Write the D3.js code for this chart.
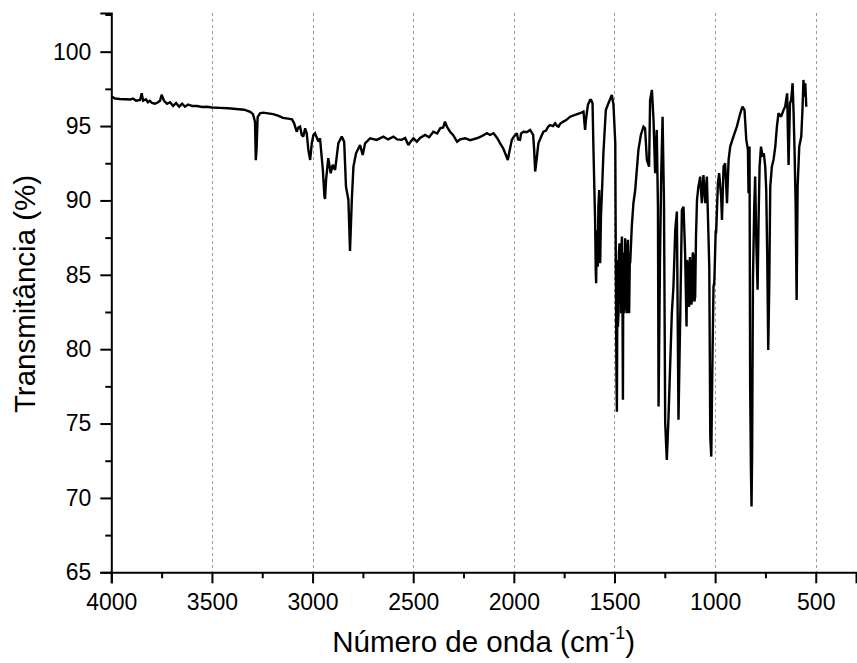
<!DOCTYPE html>
<html>
<head>
<meta charset="utf-8">
<script src="https://cdn.jsdelivr.net/npm/d3@7"></script>
<style>
  html, body { margin: 0; padding: 0; background: #fff; }
  svg { display: block; font-family: Arial, "Liberation Sans", sans-serif; }
</style>
</head>
<body>
<svg id="chart" width="857" height="663"></svg>
<script>
// FTIR spectrum: wavenumber (cm-1) and transmittance (%)
const wavenumber = [
  4000, 3982, 3957, 3932, 3907, 3892, 3877, 3857, 3849, 3842, 3828, 3818, 3808, 3798, 3783, 3768,
  3758, 3750, 3738, 3723, 3708, 3693, 3678, 3663, 3648, 3634, 3619, 3599, 3574, 3549, 3524, 3500,
  3460, 3420, 3380, 3340, 3310, 3296, 3286, 3282, 3278, 3273, 3261, 3246, 3221, 3196, 3172, 3147,
  3122, 3102, 3092, 3079, 3071, 3062, 3054, 3046, 3037, 3029, 3021, 3012, 3004, 2996, 2988, 2971,
  2963, 2949, 2941, 2938, 2933, 2922, 2910, 2900, 2888, 2872, 2855, 2843, 2834, 2822, 2816, 2814,
  2809, 2805, 2797, 2784, 2764, 2751, 2739, 2714, 2681, 2648, 2625, 2598, 2580, 2557, 2540, 2524,
  2510, 2499, 2482, 2466, 2441, 2421, 2400, 2381, 2366, 2351, 2342, 2332, 2317, 2302, 2282, 2267,
  2242, 2217, 2184, 2162, 2134, 2118, 2101, 2083, 2068, 2053, 2043, 2030, 2023, 2010, 1999, 1985,
  1979, 1969, 1964, 1952, 1934, 1919, 1904, 1899, 1894, 1889, 1878, 1864, 1853, 1840, 1830, 1820,
  1805, 1795, 1785, 1778, 1770, 1754, 1740, 1720, 1696, 1671, 1654, 1649, 1646, 1641, 1632, 1621,
  1616, 1609, 1604, 1596, 1593, 1591, 1588, 1583, 1580, 1576, 1573, 1571, 1567, 1563, 1555, 1543,
  1530, 1513, 1505, 1496, 1493, 1490, 1488, 1485, 1483, 1480, 1478, 1475, 1471, 1469, 1467, 1465,
  1463, 1460, 1458, 1456, 1452, 1450, 1447, 1444, 1441, 1438, 1436, 1433, 1430, 1427, 1424, 1422,
  1414, 1406, 1397, 1389, 1381, 1369, 1356, 1348, 1339, 1328, 1323, 1314, 1306, 1298, 1290, 1284,
  1281, 1274, 1268, 1261, 1254, 1248, 1240, 1232, 1223, 1215, 1207, 1198, 1190, 1182, 1173, 1165,
  1157, 1149, 1142, 1139, 1135, 1132, 1129, 1125, 1122, 1118, 1115, 1111, 1107, 1103, 1099, 1095,
  1090, 1083, 1074, 1066, 1058, 1049, 1041, 1036, 1029, 1024, 1019, 1013, 1008, 1004, 997, 995,
  986, 980, 970, 966, 958, 950, 941, 933, 925, 909, 892, 875, 864, 854, 845, 837,
  834, 829, 826, 822, 819, 816, 812, 806, 801, 796, 789, 784, 779, 772, 764, 758,
  751, 746, 741, 736, 731, 726, 718, 710, 701, 693, 685, 672, 660, 652, 647, 642,
  638, 635, 628, 622, 615, 610, 605, 600, 595, 590, 582, 572, 566, 561, 556, 552,
  547
];
const transmittance = [
  97.0, 96.85, 96.82, 96.8, 96.78, 96.85, 96.7, 96.75, 97.2, 96.7, 96.8, 96.6, 96.7, 96.55, 96.5, 96.6,
  96.7, 97.1, 96.7, 96.5, 96.6, 96.35, 96.55, 96.3, 96.5, 96.3, 96.45, 96.35, 96.35, 96.28, 96.3, 96.25,
  96.22, 96.2, 96.15, 96.1, 95.95, 95.8, 95.3, 92.7, 93.5, 95.6, 95.85, 95.9, 95.85, 95.8, 95.7, 95.55,
  95.5, 95.45, 95.2, 94.62, 94.9, 94.96, 94.4, 94.29, 94.85, 94.52, 93.4, 92.72, 93.84, 94.4, 94.52, 93.95,
  94.18, 92.05, 90.26, 90.1, 91.38, 92.84, 91.83, 92.39, 92.05, 93.84, 94.29, 93.95, 90.93, 90.03, 87.5, 86.6,
  88.5, 90.03, 92.27, 93.17, 93.73, 93.06, 93.84, 94.18, 94.07, 94.29, 94.1, 94.29, 94.1, 94.07, 94.2, 93.73,
  94.0, 94.18, 93.95, 94.2, 94.4, 94.25, 94.62, 94.5, 94.85, 94.9, 95.3, 94.95, 94.62, 94.4, 93.95, 94.1,
  94.18, 94.05, 94.18, 94.3, 94.52, 94.4, 94.52, 94.2, 93.84, 93.5, 93.17, 92.72, 93.2, 94.07, 94.3, 94.52,
  94.1, 94.07, 94.5, 94.62, 94.6, 94.74, 94.4, 93.4, 91.94, 92.5, 93.84, 94.3, 94.62, 94.7, 94.95, 95.07,
  95.0, 95.19, 95.0, 94.96, 95.15, 95.3, 95.4, 95.63, 95.75, 95.86, 95.97, 95.2, 94.74, 95.5, 96.42, 96.75,
  96.75, 96.53, 93.17, 88.47, 85.2, 84.43, 88.0, 85.55, 89.5, 90.7, 86.5, 85.78, 89.0, 90.26, 93.17, 96.08,
  96.53, 97.09, 96.42, 93.84, 84.66, 77.94, 75.8, 86.0, 81.5, 82.42, 86.5, 87.12, 83.0, 87.0, 82.42, 86.8,
  87.57, 82.5, 76.6, 86.5, 82.42, 83.0, 87.46, 82.6, 87.0, 82.42, 86.8, 87.35, 83.0, 82.42, 86.0, 85.78,
  88.24, 89.81, 90.7, 92.05, 93.4, 94.4, 94.96, 94.85, 92.72, 92.27, 96.75, 97.43, 95.41, 91.83, 94.74, 89.58,
  76.14, 85.78, 91.6, 95.63, 89.81, 75.03, 72.56, 75.25, 79.06, 82.42, 84.21, 88.02, 89.25, 75.25, 82.42, 89.36,
  89.58, 86.45, 81.52, 86.0, 85.55, 83.0, 82.86, 86.2, 85.55, 83.0, 83.31, 86.5, 86.22, 83.2, 83.53, 87.57,
  90.03, 90.93, 91.6, 89.81, 91.71, 89.81, 91.6, 89.14, 85.55, 74.13, 72.78, 79.5, 84.21, 84.5, 88.0, 87.8,
  91.16, 91.83, 90.26, 88.69, 92.27, 92.5, 89.81, 92.72, 93.62, 94.29, 94.96, 95.86, 96.3, 96.08, 94.07, 93.4,
  90.48, 93.62, 77.71, 71.89, 69.42, 73.23, 84.66, 89.36, 91.6, 87.57, 83.99, 88.69, 92.27, 93.62, 92.94, 93.17,
  92.27, 90.7, 86.22, 79.95, 84.21, 90.93, 92.27, 92.72, 93.62, 94.96, 95.86, 95.63, 96.08, 96.3, 96.75, 97.2,
  94.29, 92.39, 96.53, 96.75, 97.88, 95.86, 93.17, 89.81, 83.31, 90.93, 93.62, 94.29, 96.08, 98.1, 96.97, 97.88,
  96.3
];

const xMajorTicks = [4000, 3500, 3000, 2500, 2000, 1500, 1000, 500];
const xMinorTicks = [3750, 3250, 2750, 2250, 1750, 1250, 750];
const xGridTicks = [3500, 3000, 2500, 2000, 1500, 1000, 500];
const yMajorTicks = [65, 70, 75, 80, 85, 90, 95, 100];
const yMinorTicks = [67.5, 72.5, 77.5, 82.5, 87.5, 92.5, 97.5, 102.5];

const xTitle = "Número de onda (cm";
const xTitleSup = "-1";
const yTitle = "Transmitância (%)";

const svg = d3.select("#chart");
const plot = { left: 111.3, right: 856, top: 13, bottom: 572.3 };

const x = d3.scaleLinear().domain([4000, 300]).range([plot.left, plot.right]);
const y = d3.scaleLinear().domain([65, 102.6]).range([plot.bottom, plot.top]);

// vertical dashed grid lines
svg.append("g")
  .selectAll("line")
  .data(xGridTicks)
  .join("line")
  .attr("x1", d => Math.round(x(d)) + 0.5)
  .attr("x2", d => Math.round(x(d)) + 0.5)
  .attr("y1", plot.top)
  .attr("y2", plot.bottom)
  .attr("stroke", "#9a9a9a")
  .attr("stroke-width", 1)
  .attr("stroke-dasharray", "3,3");

// spectrum trace
const line = d3.line()
  .x((d, i) => x(wavenumber[i]))
  .y((d, i) => y(transmittance[i]));

svg.append("path")
  .datum(transmittance)
  .attr("d", line)
  .attr("fill", "none")
  .attr("stroke", "#000")
  .attr("stroke-width", 2.4)
  .attr("stroke-linejoin", "miter")
  .attr("stroke-miterlimit", 2);

// x axis
const xAxis = svg.append("g").attr("transform", `translate(0,${plot.bottom})`);
xAxis.call(d3.axisBottom(x).tickValues(xMajorTicks).tickSize(11).tickPadding(10).tickFormat(d3.format("d")));
xAxis.append("g").call(d3.axisBottom(x).tickValues(xMinorTicks).tickSize(6).tickFormat(""))
  .select(".domain").remove();

// y axis
const yAxis = svg.append("g").attr("transform", `translate(${plot.left},0)`);
yAxis.call(d3.axisLeft(y).tickValues(yMajorTicks).tickSize(11).tickPadding(9).tickFormat(d3.format("d")));
yAxis.append("g").call(d3.axisLeft(y).tickValues(yMinorTicks).tickSize(6).tickFormat(""))
  .select(".domain").remove();

svg.selectAll(".domain").attr("stroke", "#000").attr("stroke-width", 2);
svg.selectAll(".tick line").attr("stroke", "#000").attr("stroke-width", 2);
svg.selectAll(".tick text")
  .attr("font-family", "Arial, 'Liberation Sans', sans-serif")
  .attr("font-size", 23)
  .attr("fill", "#000");

// axis titles
const xt = svg.append("text")
  .attr("x", (plot.left + plot.right) / 2)
  .attr("y", 652)
  .attr("text-anchor", "middle")
  .attr("font-size", 29.5)
  .attr("fill", "#000");
xt.append("tspan").text(xTitle);
xt.append("tspan").attr("font-size", 18).attr("dy", -13).text(xTitleSup);
xt.append("tspan").attr("dy", 13).text(")");

svg.append("text")
  .attr("transform", `translate(35,294) rotate(-90)`)
  .attr("text-anchor", "middle")
  .attr("font-size", 29.5)
  .attr("fill", "#000")
  .text(yTitle);
</script>
</body>
</html>
